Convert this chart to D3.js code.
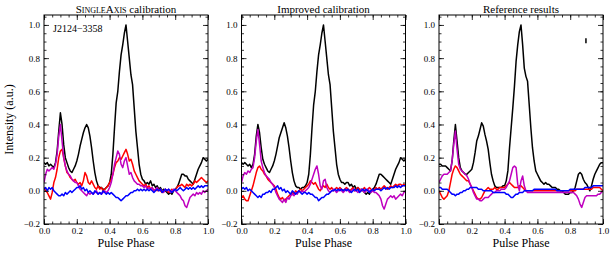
<!DOCTYPE html>
<html>
<head>
<meta charset="utf-8">
<script src="https://cdn.jsdelivr.net/npm/d3@7"></script>
<style>
  body { margin: 0; background: #fff; }
  svg { display: block; }
  svg text { font-family: "Liberation Serif", "DejaVu Serif", serif; }
</style>
</head>
<body>
<svg id="chart_svg" width="613" height="256"></svg>
<script>
'use strict';

// pulse profiles, 101 phase bins from 0.00 to 1.00
const panelTitles = ["SingleAxis calibration", "Improved calibration", "Reference results"];
const pulsarName = "J2124\u22123358";
const xTicks = [0.0, 0.2, 0.4, 0.6, 0.8, 1.0];
const yTicks = [-0.2, 0.0, 0.2, 0.4, 0.6, 0.8, 1.0];

const singleAxisI = [0.17,0.16,0.17,0.15,0.16,0.15,0.14,0.17,0.24,0.36,0.47,0.40,0.28,0.20,0.17,0.14,0.12,0.11,0.13,0.15,
  0.18,0.22,0.27,0.31,0.35,0.38,0.40,0.38,0.33,0.26,0.18,0.11,0.06,0.03,0.02,0.02,0.01,0.01,0.02,0.03,
  0.05,0.10,0.22,0.38,0.53,0.60,0.72,0.82,0.88,0.95,1.00,0.90,0.80,0.70,0.64,0.50,0.36,0.26,0.16,0.10,
  0.07,0.06,0.04,0.05,0.04,0.06,0.03,0.04,0.02,0.03,0.01,0.02,0.00,0.01,0.00,-0.01,-0.02,-0.01,-0.02,0.00,
  0.01,0.02,0.04,0.07,0.10,0.10,0.09,0.09,0.07,0.06,0.05,0.04,0.07,0.10,0.13,0.15,0.17,0.20,0.19,0.18,0.19];
const singleAxisL = [0.02,0.00,-0.01,-0.03,-0.05,-0.01,0.05,0.08,0.13,0.20,0.24,0.25,0.20,0.15,0.11,0.10,0.08,0.07,0.06,0.07,
  0.05,0.04,0.05,0.03,0.06,0.11,0.09,0.05,0.04,0.06,0.04,0.02,0.01,0.03,0.01,0.02,0.00,0.01,0.02,0.03,
  0.05,0.07,0.10,0.14,0.17,0.18,0.20,0.19,0.21,0.23,0.25,0.22,0.18,0.19,0.16,0.12,0.10,0.08,0.06,0.05,
  0.04,0.03,0.04,0.02,0.03,0.01,0.02,0.00,0.01,0.00,0.01,0.00,-0.01,0.00,0.01,0.00,-0.01,0.00,0.01,0.00,
  0.01,0.02,0.03,0.03,0.04,0.03,0.02,0.04,0.03,0.04,0.03,0.04,0.06,0.05,0.06,0.07,0.08,0.07,0.06,0.05,0.06];
const singleAxisV = [0.05,0.10,0.13,0.12,0.13,0.14,0.13,0.16,0.22,0.33,0.40,0.30,0.20,0.15,0.12,0.10,0.09,0.07,0.06,0.05,
  0.05,0.03,0.01,0.00,-0.01,-0.02,-0.03,-0.01,-0.02,-0.01,-0.02,-0.01,0.00,-0.02,-0.01,-0.02,-0.01,0.00,-0.01,0.00,
  0.02,0.05,0.10,0.16,0.20,0.24,0.22,0.16,0.14,0.18,0.20,0.15,0.10,0.11,0.08,0.06,0.05,0.04,0.04,0.03,
  0.03,0.02,0.03,0.01,0.02,0.01,0.02,0.00,0.01,0.02,0.00,0.01,0.00,-0.01,0.01,0.00,0.01,-0.01,0.00,0.01,
  0.00,-0.01,-0.02,-0.03,-0.05,-0.06,-0.09,-0.10,-0.07,-0.04,-0.03,-0.02,-0.03,-0.01,-0.02,-0.01,-0.02,0.00,-0.01,0.00,0.01];
const singleAxisB = [0.01,0.02,0.00,0.02,0.01,0.02,0.00,-0.01,-0.02,-0.03,-0.03,-0.02,-0.03,-0.01,-0.02,-0.01,0.00,-0.01,0.00,0.01,
  0.02,0.02,0.03,0.01,0.02,0.00,0.01,-0.01,0.00,-0.01,-0.02,0.00,-0.01,-0.02,-0.01,-0.02,0.00,-0.01,-0.02,-0.01,
  -0.02,-0.01,-0.02,-0.03,-0.04,-0.04,-0.05,-0.06,-0.05,-0.04,-0.03,-0.03,-0.02,-0.01,-0.01,0.00,0.00,0.01,0.00,0.01,
  0.00,0.01,0.00,0.01,0.00,0.01,0.00,-0.01,0.00,0.01,0.00,0.01,-0.01,0.00,0.01,0.00,0.01,0.00,-0.01,0.00,
  0.01,0.00,0.01,0.02,0.01,0.00,0.01,0.02,0.01,0.02,0.01,0.02,0.01,0.02,0.03,0.02,0.03,0.02,0.03,0.03,0.03];

const improvedI = [0.17,0.16,0.17,0.16,0.15,0.16,0.14,0.16,0.22,0.33,0.40,0.35,0.26,0.19,0.16,0.14,0.12,0.11,0.13,0.15,
  0.18,0.22,0.27,0.32,0.35,0.38,0.41,0.38,0.33,0.26,0.18,0.11,0.06,0.03,0.02,0.02,0.01,0.02,0.02,0.03,
  0.05,0.10,0.22,0.38,0.52,0.60,0.72,0.82,0.88,0.95,1.00,0.90,0.80,0.70,0.64,0.50,0.36,0.26,0.16,0.10,
  0.07,0.05,0.05,0.04,0.05,0.05,0.03,0.04,0.02,0.03,0.01,0.02,0.00,0.01,0.00,-0.01,-0.02,-0.01,-0.02,0.00,
  0.01,0.02,0.04,0.07,0.10,0.10,0.09,0.08,0.07,0.06,0.05,0.04,0.07,0.10,0.13,0.15,0.17,0.20,0.19,0.18,0.19];
const improvedL = [-0.04,-0.03,-0.05,-0.06,-0.06,-0.03,0.00,0.03,0.07,0.11,0.14,0.15,0.13,0.12,0.10,0.09,0.07,0.06,0.05,0.04,
  0.03,0.01,-0.02,-0.04,-0.05,-0.04,-0.06,-0.05,-0.04,-0.03,-0.02,-0.01,-0.02,0.00,-0.01,0.00,0.01,0.00,0.01,0.02,
  0.03,0.04,0.06,0.05,0.04,0.05,0.03,0.01,0.00,0.02,0.03,0.02,0.04,0.02,0.01,0.02,0.00,0.01,0.02,0.01,
  0.02,0.01,0.00,0.01,0.02,0.01,0.00,0.01,0.02,0.00,0.01,0.02,0.01,0.00,0.01,0.02,0.00,0.01,0.02,0.01,
  0.00,0.01,0.02,0.01,0.02,0.01,0.02,0.03,0.02,0.01,0.02,0.03,0.02,0.03,0.04,0.03,0.04,0.04,0.03,0.04,0.03];
const improvedV = [0.05,0.09,0.11,0.10,0.12,0.11,0.13,0.14,0.20,0.30,0.37,0.28,0.18,0.14,0.11,0.09,0.08,0.07,0.05,0.04,
  0.02,-0.01,-0.03,-0.05,-0.06,-0.07,-0.05,-0.07,-0.04,-0.05,-0.03,-0.02,-0.03,-0.01,-0.02,0.00,-0.01,0.00,-0.01,0.00,
  0.01,0.02,0.04,0.07,0.10,0.13,0.15,0.10,0.03,0.01,0.06,0.07,0.02,0.00,-0.01,0.00,0.01,0.00,-0.01,0.00,
  0.01,0.00,-0.01,0.00,0.01,0.00,-0.01,0.00,0.01,0.00,0.00,-0.01,0.00,0.01,0.00,-0.01,0.00,0.01,0.00,-0.01,
  0.00,-0.01,-0.01,-0.02,-0.03,-0.05,-0.09,-0.11,-0.08,-0.05,-0.04,-0.03,-0.04,-0.03,-0.05,-0.04,-0.03,-0.02,-0.03,-0.01,0.00];
const improvedB = [0.01,0.02,0.01,0.02,0.00,0.01,0.00,-0.01,-0.02,-0.03,-0.04,-0.03,-0.04,-0.02,-0.02,-0.01,-0.01,0.00,-0.01,0.01,
  0.01,0.02,0.03,0.01,0.02,0.00,0.01,-0.01,0.00,-0.01,-0.02,0.00,-0.01,-0.02,-0.01,0.00,-0.01,-0.02,-0.01,-0.01,
  -0.02,-0.01,-0.02,-0.02,-0.03,-0.04,-0.04,-0.06,-0.05,-0.04,-0.04,-0.03,-0.02,-0.02,-0.01,0.00,0.00,0.01,0.00,0.01,
  0.00,0.01,0.00,0.01,0.00,0.01,0.00,-0.01,0.00,0.01,0.00,0.01,-0.01,0.00,0.01,0.00,0.01,0.00,-0.01,0.00,
  0.01,0.00,0.01,0.01,0.01,0.00,0.01,0.02,0.01,0.02,0.01,0.02,0.02,0.02,0.03,0.02,0.03,0.02,0.03,0.03,0.03];

const referenceI = [0.16,0.16,0.15,0.15,0.15,0.14,0.13,0.12,0.18,0.30,0.40,0.30,0.20,0.14,0.12,0.11,0.10,0.10,0.11,0.12,
  0.13,0.17,0.23,0.30,0.33,0.37,0.41,0.39,0.34,0.30,0.25,0.17,0.10,0.06,0.03,0.02,0.02,0.02,0.02,0.03,
  0.03,0.06,0.12,0.26,0.38,0.50,0.63,0.78,0.88,0.96,1.00,0.88,0.74,0.69,0.66,0.52,0.38,0.26,0.18,0.12,
  0.10,0.08,0.06,0.05,0.04,0.05,0.04,0.04,0.03,0.02,0.02,0.02,0.01,0.01,0.00,0.00,-0.01,-0.02,-0.02,-0.02,
  -0.01,-0.01,0.00,0.02,0.06,0.10,0.11,0.10,0.07,0.05,0.04,0.02,0.00,0.03,0.07,0.10,0.12,0.14,0.16,0.17,0.17];
const referenceL = [0.00,-0.02,-0.04,-0.05,-0.04,-0.03,0.00,0.05,0.10,0.13,0.15,0.14,0.12,0.10,0.09,0.08,0.07,0.06,0.06,0.04,
  0.02,0.00,-0.02,-0.04,-0.05,-0.05,-0.04,-0.02,0.00,0.01,0.02,0.01,0.01,0.01,0.02,0.01,0.01,0.02,0.02,0.02,
  0.02,0.03,0.04,0.05,0.04,0.03,0.02,0.02,0.02,0.03,0.03,0.02,0.01,0.00,0.00,0.00,0.00,0.00,0.00,0.00,
  0.00,0.00,0.00,0.00,0.00,0.00,0.00,0.00,0.00,0.00,0.00,0.00,0.00,0.00,0.00,0.00,0.00,0.00,0.00,0.00,
  0.00,0.00,0.00,0.00,0.01,0.01,0.01,0.01,0.01,0.01,0.01,0.01,0.01,0.01,0.02,0.02,0.02,0.02,0.02,0.01,0.00];
const referenceV = [0.05,0.07,0.09,0.10,0.10,0.10,0.11,0.12,0.18,0.28,0.36,0.25,0.16,0.13,0.12,0.11,0.10,0.09,0.07,0.04,
  0.02,-0.01,-0.03,-0.05,-0.05,-0.06,-0.06,-0.05,-0.04,-0.04,-0.04,-0.03,-0.02,-0.01,-0.01,0.00,0.00,0.00,0.01,0.01,
  0.01,0.02,0.04,0.06,0.10,0.14,0.15,0.14,0.04,0.00,0.06,0.09,0.03,0.00,-0.01,-0.01,-0.01,-0.01,-0.01,-0.01,
  -0.01,-0.01,-0.01,-0.01,-0.01,-0.01,-0.01,-0.01,-0.01,-0.01,-0.01,-0.01,-0.01,-0.01,-0.01,-0.01,-0.01,-0.01,-0.01,-0.01,
  -0.01,-0.01,-0.01,-0.02,-0.03,-0.05,-0.08,-0.10,-0.07,-0.04,-0.03,-0.03,-0.03,-0.03,-0.03,-0.03,-0.03,-0.02,-0.02,-0.01,0.00];
const referenceB = [0.02,0.02,0.01,0.01,0.01,0.01,0.00,-0.01,-0.02,-0.02,-0.03,-0.02,-0.02,-0.01,-0.01,0.00,0.00,0.01,0.01,0.02,
  0.02,0.02,0.02,0.02,0.01,0.01,0.01,0.00,0.00,0.00,0.00,0.00,0.00,-0.01,-0.01,-0.01,-0.01,-0.01,-0.01,-0.01,
  -0.01,-0.02,-0.02,-0.03,-0.04,-0.04,-0.03,-0.02,-0.02,-0.01,-0.01,-0.01,0.00,0.00,0.00,0.00,0.00,0.00,0.01,0.01,
  0.01,0.01,0.01,0.01,0.01,0.01,0.01,0.01,0.01,0.01,0.01,0.01,0.00,0.00,0.00,0.00,0.00,0.00,0.00,0.00,
  0.01,0.01,0.01,0.01,0.01,0.01,0.01,0.01,0.01,0.02,0.02,0.02,0.02,0.02,0.03,0.03,0.03,0.03,0.03,0.03,0.03];

// error bar in the reference panel (phase, low, high)
const errorBar = [0.896, 0.89, 0.92];

const panels = [
  {title: panelTitles[0], series: [singleAxisI, singleAxisL, singleAxisV, singleAxisB]},
  {title: panelTitles[1], series: [improvedI, improvedL, improvedV, improvedB]},
  {title: panelTitles[2], series: [referenceI, referenceL, referenceV, referenceB]}
];
const colors = ["#000000", "#ff0000", "#bf00bf", "#0000ff"];
const serif = "'Liberation Serif', 'DejaVu Serif', serif";

const svg = d3.select("#chart_svg");
const margin = {top: 15, left: 44},
  pw = 164, ph = 209, gap = 33.5;

const x = d3.scaleLinear().domain([0, 1]).range([0, pw]);
const y = d3.scaleLinear().domain([-0.2, 1.06]).range([ph, 0]);
const fmt = d3.format(".1f");

const line = d3.line()
  .x((d, i) => x(i / (d.n - 1)))
  .y((d) => y(d.v));

panels.forEach((p, k) => {
  const g = svg.append("g")
    .attr("transform", "translate(" + (margin.left + k * (pw + gap)) + "," + margin.top + ")");

  g.append("defs").append("clipPath").attr("id", "clip" + k)
    .append("rect").attr("width", pw).attr("height", ph);

  const lines = g.append("g").attr("clip-path", "url(#clip" + k + ")");
  p.series.forEach((s, j) => {
    lines.append("path")
      .datum(s.map((v) => ({v: v, n: s.length})))
      .attr("fill", "none")
      .attr("stroke", colors[j])
      .attr("stroke-width", 1.5)
      .attr("stroke-linejoin", "round")
      .attr("d", line);
  });

  // inward ticks on all four sides
  const minorX = d3.range(0, 1.0001, 0.05), minorY = d3.range(-0.2, 1.0501, 0.05);
  const axes = [
    [d3.axisBottom(x).tickValues(minorX).tickSize(-2.5).tickFormat(""), "translate(0," + ph + ")"],
    [d3.axisTop(x).tickValues(minorX).tickSize(-2.5).tickFormat(""), null],
    [d3.axisLeft(y).tickValues(minorY).tickSize(-2.5).tickFormat(""), null],
    [d3.axisRight(y).tickValues(minorY).tickSize(-2.5).tickFormat(""), "translate(" + pw + ",0)"],
    [d3.axisBottom(x).tickValues(xTicks).tickSize(-5).tickPadding(4).tickFormat(fmt), "translate(0," + ph + ")"],
    [d3.axisTop(x).tickValues(xTicks).tickSize(-5).tickFormat(""), null],
    [d3.axisLeft(y).tickValues(yTicks).tickSize(-5).tickPadding(4).tickFormat(fmt), null],
    [d3.axisRight(y).tickValues(yTicks).tickSize(-5).tickFormat(""), "translate(" + pw + ",0)"]
  ];
  axes.forEach(([ax, tr]) => {
    const a = g.append("g").call(ax).attr("font-family", serif);
    if (tr) a.attr("transform", tr);
    a.select(".domain").remove();
    a.selectAll("line").attr("stroke", "#000").attr("stroke-width", 0.8);
    a.selectAll("text").attr("fill", "#000").attr("font-size", 9);
  });

  g.append("rect").attr("width", pw).attr("height", ph)
    .attr("fill", "none").attr("stroke", "#000").attr("stroke-width", 1);

  const t = g.append("text")
    .attr("x", pw / 2).attr("y", -2.5)
    .attr("text-anchor", "middle")
    .attr("font-family", serif)
    .attr("font-size", 11);
  if (k === 0) {
    t.append("tspan").style("font-variant", "small-caps").text("SingleAxis");
    t.append("tspan").text(" calibration");
  } else {
    t.text(p.title);
  }

  g.append("text")
    .attr("x", pw / 2).attr("y", ph + 23)
    .attr("text-anchor", "middle")
    .attr("font-family", serif)
    .attr("font-size", 12)
    .text("Pulse Phase");

  if (k === 0) {
    g.append("text")
      .attr("x", 9).attr("y", 17)
      .attr("font-family", serif)
      .attr("font-size", 10)
      .text(pulsarName);
    g.append("text")
      .attr("transform", "translate(-31," + (ph / 2) + ") rotate(-90)")
      .attr("text-anchor", "middle")
      .attr("font-family", serif)
      .attr("font-size", 12)
      .text("Intensity (a.u.)");
  }

  if (k === 2) {
    g.append("line")
      .attr("x1", x(errorBar[0])).attr("x2", x(errorBar[0]))
      .attr("y1", y(errorBar[1])).attr("y2", y(errorBar[2]))
      .attr("stroke", "#000").attr("stroke-width", 1.5);
  }
});
</script>
</body>
</html>
